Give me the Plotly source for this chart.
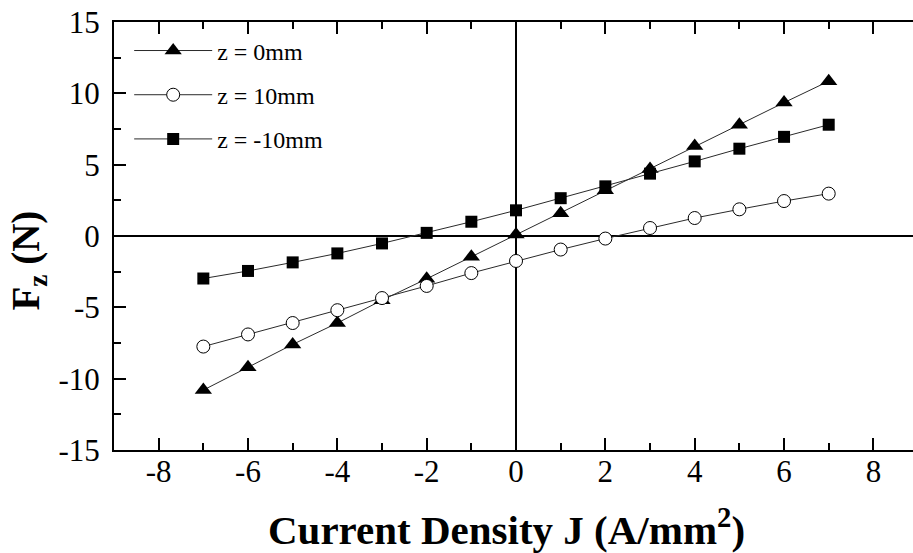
import plotly.graph_objects as go

# Current density J (A/mm^2)
current_density = [-7, -6, -5, -4, -3, -2, -1, 0, 1, 2, 3, 4, 5, 6, 7]

# Axial force Fz (N) at three axial positions
fz_z0 = [-10.8, -9.2, -7.6, -6.1, -4.5, -3.0, -1.45, 0.1, 1.6, 3.2, 4.7, 6.3, 7.8, 9.35, 10.85]
fz_z10 = [-7.75, -6.9, -6.1, -5.2, -4.35, -3.5, -2.6, -1.75, -0.95, -0.18, 0.56, 1.26, 1.87, 2.45, 2.97]
fz_zm10 = [-2.98, -2.45, -1.85, -1.22, -0.52, 0.22, 1.0, 1.8, 2.65, 3.48, 4.37, 5.23, 6.12, 6.95, 7.8]

series_names = ["z = 0mm", "z = 10mm", "z = -10mm"]

x_ticks = [-8, -6, -4, -2, 0, 2, 4, 6, 8]
x_tick_text = ["-8", "-6", "-4", "-2", "0", "2", "4", "6", "8"]
y_ticks = [-15, -10, -5, 0, 5, 10, 15]
y_tick_text = ["-15", "-10", "-5", "0", "5", "10", "15"]

x_title = "<b>Current Density J (A/mm<sup>2</sup>)</b>"
y_title = "<b>F<sub>z</sub> (N)</b>"

serif = "Liberation Serif, Times New Roman, serif"
line_col = "#2a2a2a"

fig = go.Figure()

fig.add_trace(go.Scatter(
    x=current_density, y=fz_z0, name=series_names[0], mode="lines+markers",
    line=dict(color=line_col, width=1),
    marker=dict(symbol="triangle-up", size=15, color="black"),
    legendgroup="a",
))
fig.add_trace(go.Scatter(
    x=current_density, y=fz_z10, name=series_names[1], mode="lines+markers",
    line=dict(color=line_col, width=1),
    marker=dict(symbol="circle", size=13, color="white",
                line=dict(color="black", width=1)),
    legendgroup="b",
))
fig.add_trace(go.Scatter(
    x=current_density, y=fz_zm10, name=series_names[2], mode="lines+markers",
    line=dict(color=line_col, width=1),
    marker=dict(symbol="square", size=12, color="black"),
    legendgroup="c",
))

fig.update_layout(
    width=913, height=553,
    margin=dict(l=114, r=0, t=22, b=103),
    paper_bgcolor="white", plot_bgcolor="white",
    font=dict(family=serif, color="black"),
    showlegend=True,
    legend=dict(
        x=0.019, y=0.985, xanchor="left", yanchor="top",
        bgcolor="rgba(0,0,0,0)",
        font=dict(family=serif, size=24, color="black"),
        itemwidth=78, tracegroupgap=10, traceorder="grouped",
    ),
    xaxis=dict(
        range=[-9, 8.887],
        tickvals=x_ticks, ticktext=x_tick_text,
        ticks="inside", ticklen=12, tickwidth=2, tickcolor="black",
        minor=dict(dtick=1, tick0=0, ticks="inside", ticklen=7, tickwidth=2, tickcolor="black"),
        showline=True, linewidth=2, linecolor="black", mirror="ticks",
        showgrid=False,
        zeroline=True, zerolinecolor="black", zerolinewidth=2,
        tickfont=dict(family=serif, size=31, color="black"),
        ticklabelstandoff=-7,
    ),
    yaxis=dict(
        range=[-15, 15],
        tickvals=y_ticks, ticktext=y_tick_text,
        ticks="inside", ticklen=12, tickwidth=2, tickcolor="black",
        minor=dict(dtick=2.5, tick0=0, ticks="inside", ticklen=7, tickwidth=2, tickcolor="black"),
        showline=True, linewidth=2, linecolor="black", mirror=False,
        showgrid=False,
        zeroline=True, zerolinecolor="black", zerolinewidth=2,
        tickfont=dict(family=serif, size=31, color="black"),
        ticklabelstandoff=6,
    ),
    yaxis2=dict(
        overlaying="y", side="right", anchor="x",
        range=[-15, 15], tickvals=y_ticks, showticklabels=False,
        ticks="inside", ticklen=8, tickwidth=2, tickcolor="black",
        minor=dict(dtick=2.5, tick0=0, ticks="inside", ticklen=4, tickwidth=2, tickcolor="black"),
        showline=False, showgrid=False, zeroline=False,
    ),
    annotations=[
        dict(text=x_title, xref="paper", yref="paper",
             x=(506 - 114) / 799, y=(450 - 527) / 428,
             xanchor="center", yanchor="middle", showarrow=False,
             font=dict(family=serif, size=41, color="black")),
        dict(text=y_title, xref="paper", yref="paper", textangle=-90,
             x=(1 - 114) / 799, y=(450 - 260) / 428,
             xanchor="left", yanchor="middle", showarrow=False,
             font=dict(family=serif, size=39, color="black")),
    ],
)

fig.write_html("out.html")
